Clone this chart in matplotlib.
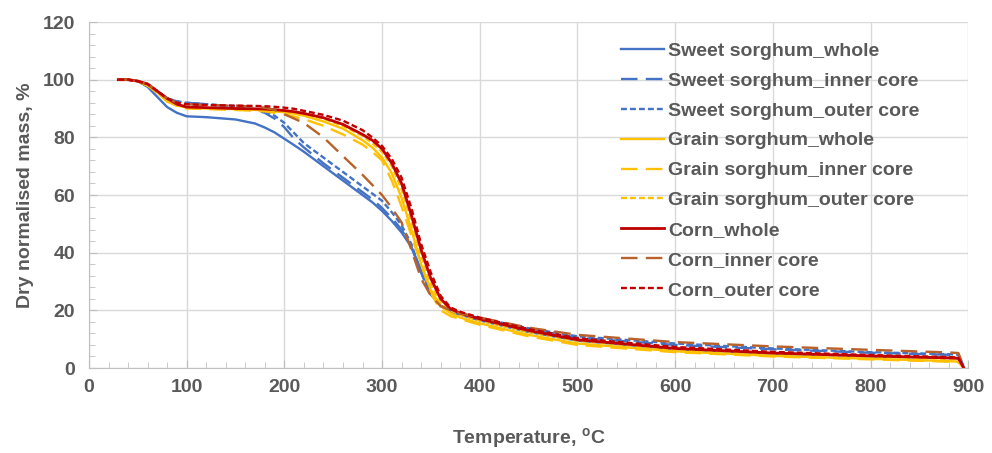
import matplotlib.pyplot as plt
from matplotlib.ticker import MultipleLocator

plt.rcParams['font.family'] = ['Liberation Sans', 'DejaVu Sans']

# ---------------------------
# Data
# ---------------------------
temp = [30, 40, 50, 60, 70, 80, 90, 100, 120, 150, 170, 180, 190, 200, 210, 220, 240,
        260, 280, 290, 300, 310, 320, 330, 340, 350, 360, 370, 380, 400, 450,
        500, 600, 700, 800, 880, 890, 895]

ss_whole = [100, 100, 99.5, 97.5, 94, 90.5, 88.5, 87.3, 87, 86.2, 84.8, 83.4, 81.7, 79.5, 77.3, 75, 70,
            65, 60, 57.5, 54.5, 51, 47, 42, 34, 26, 21.5, 19.5, 18.5, 16.5, 12.5,
            9.5, 6.5, 5, 4, 3.5, 3.3, 0.5]
ss_inner = [100, 100, 99.5, 98, 96, 93.5, 92.5, 92, 91.5, 90.5, 89.5, 88.5, 86.5, 83.5, 79.5, 76.5, 71,
            66, 61, 58.5, 55.5, 52, 48, 42, 33, 25.5, 21.5, 20, 19, 17, 13.5,
            10.5, 8, 6.5, 5.3, 4.6, 4.5, 0.8]
ss_outer = [100, 100, 99.5, 98, 96, 93.5, 92.5, 92, 91.5, 90.8, 89.8, 89, 87.5, 85, 81.5, 78, 73,
            68, 63, 60.5, 58, 54, 49.5, 43, 33, 25.5, 21.5, 20, 19, 17.3, 13.8,
            11, 8.5, 6.8, 5.5, 4.8, 4.6, 0.8]
gs_whole = [100, 100, 99.5, 98, 95.5, 92.5, 91, 90.5, 90, 89.8, 89.5, 89.3, 89, 88.7, 88.2, 87.5, 85.5,
            83, 79, 76.5, 73, 67.5, 59, 48, 36, 27, 21.5, 19, 17.5, 15.5, 11.5,
            8.5, 5.8, 4.2, 3.2, 2.4, 2.2, 0.2]
gs_inner = [100, 100, 99.5, 98, 95.5, 92.5, 91, 90, 89.8, 89.5, 89.2, 89, 88.5, 88, 87.2, 86.3, 84,
            81, 77.5, 75, 72, 65, 56, 46, 36, 26, 20, 18, 17, 15, 11,
            8, 5.5, 4, 3, 2.2, 2, 0.2]
gs_outer = [100, 100, 99.5, 98, 95.5, 92.5, 91, 90.5, 90.2, 90, 89.8, 89.7, 89.5, 89.2, 88.8, 88.2, 86.5,
            84, 80.5, 78, 75, 70, 62, 51, 39, 29, 22.5, 20, 18.5, 16.5, 12.5,
            9.5, 6.5, 5, 4, 3.2, 3, 0.3]
corn_whole = [100, 100, 99.5, 98.5, 96, 93.5, 91.5, 90.5, 90.3, 90, 89.9, 89.8, 89.6, 89.3, 88.9, 88.3, 86.8,
              84.5, 81, 79, 76, 71, 64, 53, 41, 31, 24, 20.5, 19, 17, 13,
              9.8, 6.8, 5.2, 4.2, 3.5, 3.4, 0.3]
corn_inner = [100, 100, 99.5, 98.5, 96, 93.5, 92, 91.5, 91.2, 91, 90.6, 90.3, 89.5, 88, 86.5, 85, 80,
              73.5, 67, 63.5, 60, 55.5, 50.5, 41, 31, 25, 21.5, 20, 19, 17.5, 14,
              11.5, 9, 7.5, 6.3, 5.4, 5.2, 0.8]
corn_outer = [100, 100, 99.5, 98.5, 96, 93.5, 92, 91.5, 91.2, 91, 90.9, 90.8, 90.6, 90.3, 89.9, 89.2, 87.8,
              85.8, 82.5, 80, 77, 72.5, 66, 55.5, 43, 33, 25, 21, 19.5, 17.5, 13.5,
              10.3, 7.3, 5.6, 4.5, 3.8, 3.6, 0.4]

BLUE = '#4472C4'
YELLOW = '#FFC000'
RED = '#C00000'
BROWN = '#B8612A'
GRAY = '#595959'

LONG = (7, 3.5)
SHORT = (2.5, 1.3)

series = [
    ("Sweet sorghum_whole", ss_whole, BLUE, None),
    ("Sweet sorghum_inner core", ss_inner, BLUE, LONG),
    ("Sweet sorghum_outer core", ss_outer, BLUE, SHORT),
    ("Grain sorghum_whole", gs_whole, YELLOW, None),
    ("Grain sorghum_inner core", gs_inner, YELLOW, LONG),
    ("Grain sorghum_outer core", gs_outer, YELLOW, SHORT),
    ("Corn_whole", corn_whole, RED, None),
    ("Corn_inner core", corn_inner, BROWN, LONG),
    ("Corn_outer core", corn_outer, RED, SHORT),
]

# ---------------------------
# Plot
# ---------------------------
fig = plt.figure(figsize=(9.92, 4.53), dpi=100)
ax = fig.add_axes([0.0897, 0.1876, 0.8863, 0.7638])

for name, vals, col, dash in series:
    lw = 2.0 if col == RED and dash is None else 1.7
    line, = ax.plot(temp, vals, color=col, lw=lw, label=name)
    if dash:
        line.set_dashes(dash)

ax.set_xlim(0, 900)
ax.set_ylim(0, 120)
ax.xaxis.set_major_locator(MultipleLocator(100))
ax.xaxis.set_minor_locator(MultipleLocator(20))
ax.yaxis.set_major_locator(MultipleLocator(20))
ax.yaxis.set_minor_locator(MultipleLocator(4))
ax.grid(True, which='major', color='#D9D9D9', lw=1)
ax.set_axisbelow(True)

for s in ['top', 'right']:
    ax.spines[s].set_visible(False)
for s in ['left', 'bottom']:
    ax.spines[s].set_color('#BFBFBF')
ax.tick_params(which='both', direction='in', color='#BFBFBF', labelcolor=GRAY,
               labelsize=14)
ax.tick_params(which='major', length=6)
ax.tick_params(which='minor', length=4)
ax.tick_params(axis='x', which='major', pad=8)
ax.tick_params(axis='y', which='major', pad=10)
for lab in ax.get_xticklabels() + ax.get_yticklabels():
    lab.set_fontweight('bold')

ax.set_ylabel("Dry normalised mass, %", fontsize=14, fontweight='bold', color=GRAY, labelpad=6)
ax.set_xlabel("Temperature, $^{\\mathregular{o}}$C", fontsize=14, fontweight='bold',
              color=GRAY, labelpad=22)

ax.legend(loc='upper left', bbox_to_anchor=(0.585, 0.992), frameon=False,
          prop={'size': 14, 'weight': 'bold'}, labelcolor=GRAY, handlelength=2.2,
          handletextpad=0.25, labelspacing=0.63)

plt.savefig('out.png', dpi=100)
